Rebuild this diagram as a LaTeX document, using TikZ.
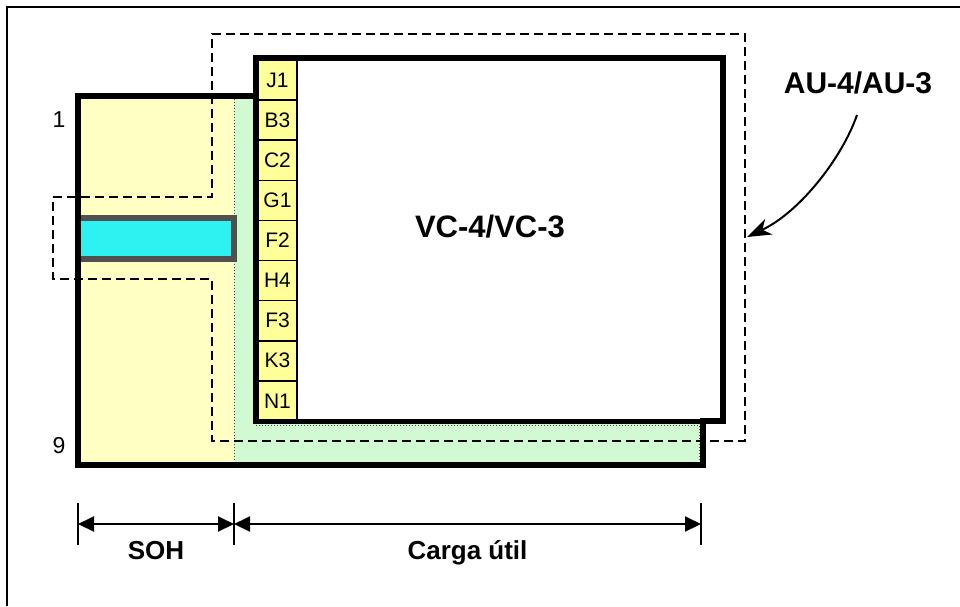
\documentclass[tikz,border=0pt]{standalone}
\usepackage{fontspec}
\setmainfont{Liberation Sans}
\usetikzlibrary{arrows.meta}
\definecolor{sohy}{HTML}{FFFFC4}
\definecolor{grn}{HTML}{D2FAD2}
\definecolor{boxy}{HTML}{FFFF99}
\definecolor{cyn}{HTML}{2EF2F2}
\definecolor{spk}{HTML}{505050}
\begin{document}
\begin{tikzpicture}[x=1pt,y=-1pt,
  outline/.style={line width=6pt, line join=miter},
  vcbox/.style={line width=5pt, line join=miter},
  aupath/.style={line width=1.5pt, dash pattern=on 9pt off 5pt},
  slot/.style={draw, line width=1.6pt, fill=boxy, minimum width=39pt, minimum height=40.1pt, inner sep=0pt, font=\fontsize{21}{24}\selectfont},
  bigtitle/.style={anchor=base, inner sep=0pt, font=\fontsize{31}{36}\selectfont\bfseries},
  dimlabel/.style={anchor=base, inner sep=0pt, font=\fontsize{26}{30}\selectfont\bfseries},
  rowlabel/.style={anchor=base, inner sep=0pt, font=\fontsize{23}{26}\selectfont},
  dimarrow/.style={line width=2pt, {Triangle[length=16pt,width=15pt]}-{Triangle[length=16pt,width=15pt]}},
  tick/.style={line width=1.5pt}
]
\useasboundingbox (0,0) rectangle (960,606);
\fill[white] (0,0) rectangle (960,606);
% outer frame (only top and left visible)
\draw[line width=2pt] (7,606) -- (7,7) -- (960,7);

% fills
\fill[sohy] (77,95) rectangle (234,466);
\fill[grn] (234,95) rectangle (256,466);
\fill[grn] (256,421) rectangle (702,466);
\draw[spk, line width=1pt, dotted] (234,99) -- (234,462);
\draw[spk, line width=1pt, dotted] (256,425) -- (699,425) -- (699,462);

% cyan bar
\fill[spk] (80,215) rectangle (237,262);
\fill[cyn] (80,221) rectangle (231,256);

% AU-4/AU-3 dashed outline
\draw[aupath] (53,197) -- (212,197) -- (212,34) -- (745,34) -- (745,441) -- (212,441) -- (212,279) -- (53,279) -- cycle;

% VC box
\fill[white] (255.5,57.5) rectangle (722.5,421);
\foreach \t [count=\i from 0] in {J1,B3,C2,G1,F2,H4,F3,K3,N1}
  \node[slot] (s\i) at (277.5,{80.05+40.1*\i}) {\t};
\draw[vcbox] (255.5,57.5) rectangle (722.5,421);

% outer thick outline
\draw[outline] (77.5,95.5) -- (255.5,95.5) -- (255.5,57.5) -- (722.5,57.5) -- (722.5,421) -- (702.5,421) -- (702.5,465) -- (77.5,465) -- cycle;

% texts
\node[bigtitle] (vc) at (490,237) {VC-4/VC-3};
\node[anchor=base, inner sep=0pt, font=\fontsize{30}{34}\selectfont\bfseries] (au) at (858,93) {AU-4/AU-3};
\node[rowlabel] (r1) at (59,127) {1};
\node[rowlabel] (r9) at (59,453) {9};

% curved arrow
\coordinate (as) at (857,115);
\coordinate (ae) at (747,237);
\draw[line width=2pt, -{Stealth[length=24pt,width=17pt,inset=7pt]}] (as) .. controls (842,158) and (800,212) .. (ae);

% dimension lines
\coordinate (d1) at (78,524);
\coordinate (d2) at (234,524);
\coordinate (d3) at (701,524);
\draw[tick] (78,503) -- (78,545);
\draw[tick] (234,503) -- (234,545);
\draw[tick] (701,503) -- (701,545);
\draw[dimarrow] (d1) -- (d2);
\draw[dimarrow] (d2) -- (d3);
\node[dimlabel] (soh) at (156,559) {SOH};
\node[dimlabel] (carga) at (467.5,559) {Carga útil};
\end{tikzpicture}
\end{document}
